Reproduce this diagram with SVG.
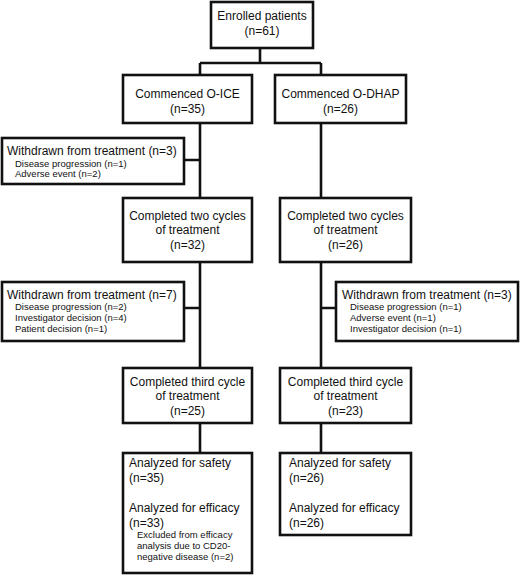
<svg xmlns="http://www.w3.org/2000/svg" width="520" height="575" viewBox="0 0 520 575">
<style>
.box{fill:#fff;stroke:#111;stroke-width:2.6}
.ln{fill:none;stroke:#111;stroke-width:2.6}
text{font-family:"Liberation Sans",Arial,sans-serif;fill:#111}
.t{font-size:12px}
.c{text-anchor:middle}
.s{font-size:9.5px}
</style>
<rect width="520" height="575" fill="#fff"/>
<g id="connectors">
<path class="ln" d="M260,48V63M200,63H321M200,63V75M321,63V75"/>
<path class="ln" d="M200,123V198M184,160H200"/>
<path class="ln" d="M321,123V198"/>
<path class="ln" d="M200,262V368M184,308H200"/>
<path class="ln" d="M321,262V368M321,308H336"/>
<path class="ln" d="M200,423V453M321,423V453"/>
</g>
<g id="enrolled">
<rect class="box" x="211" y="2" width="102" height="46"/>
<text class="t c" x="262" y="20">Enrolled patients</text>
<text class="t c" x="262" y="35">(n=61)</text>
</g>
<g id="oice">
<rect class="box" x="123" y="75" width="129" height="48"/>
<text class="t c" x="187.5" y="97.5">Commenced O-ICE</text>
<text class="t c" x="187.5" y="113">(n=35)</text>
</g>
<g id="odhap">
<rect class="box" x="275" y="75" width="131" height="48"/>
<text class="t c" x="340.5" y="97.5">Commenced O-DHAP</text>
<text class="t c" x="340.5" y="113">(n=26)</text>
</g>
<g id="withdrawn1">
<rect class="box" x="2" y="138" width="182" height="46"/>
<text class="t" x="7" y="155">Withdrawn from treatment (n=3)</text>
<text class="s" x="15" y="166.5">Disease progression (n=1)</text>
<text class="s" x="15" y="177">Adverse event (n=2)</text>
</g>
<g id="two-left">
<rect class="box" x="123" y="198" width="129" height="64"/>
<text class="t c" x="187.5" y="219.5">Completed two cycles</text>
<text class="t c" x="187.5" y="234">of treatment</text>
<text class="t c" x="187.5" y="248.5">(n=32)</text>
</g>
<g id="two-right">
<rect class="box" x="280" y="198" width="131" height="64"/>
<text class="t c" x="345.5" y="219.5">Completed two cycles</text>
<text class="t c" x="345.5" y="234">of treatment</text>
<text class="t c" x="345.5" y="248.5">(n=26)</text>
</g>
<g id="withdrawn2">
<rect class="box" x="2" y="282" width="182" height="59"/>
<text class="t" x="7" y="298.5">Withdrawn from treatment (n=7)</text>
<text class="s" x="15" y="310">Disease progression (n=2)</text>
<text class="s" x="15" y="321">Investigator decision (n=4)</text>
<text class="s" x="15" y="332">Patient decision (n=1)</text>
</g>
<g id="withdrawn3">
<rect class="box" x="336" y="282" width="182" height="59"/>
<text class="t" x="342" y="298.5">Withdrawn from treatment (n=3)</text>
<text class="s" x="350" y="310">Disease progression (n=1)</text>
<text class="s" x="350" y="321">Adverse event (n=1)</text>
<text class="s" x="350" y="332">Investigator decision (n=1)</text>
</g>
<g id="third-left">
<rect class="box" x="123" y="368" width="129" height="55"/>
<text class="t c" x="187.5" y="386">Completed third cycle</text>
<text class="t c" x="187.5" y="399.5">of treatment</text>
<text class="t c" x="187.5" y="414.5">(n=25)</text>
</g>
<g id="third-right">
<rect class="box" x="280" y="368" width="131" height="55"/>
<text class="t c" x="345.5" y="386">Completed third cycle</text>
<text class="t c" x="345.5" y="399.5">of treatment</text>
<text class="t c" x="345.5" y="414.5">(n=23)</text>
</g>
<g id="analyzed-left">
<rect class="box" x="123" y="453" width="129" height="120"/>
<text class="t" x="129" y="467">Analyzed for safety</text>
<text class="t" x="129" y="482">(n=35)</text>
<text class="t" x="129" y="512">Analyzed for efficacy</text>
<text class="t" x="129" y="527">(n=33)</text>
<text class="s" x="137" y="537.5">Excluded from efficacy</text>
<text class="s" x="137" y="548.5">analysis due to CD20-</text>
<text class="s" x="137" y="559.5">negative disease (n=2)</text>
</g>
<g id="analyzed-right">
<rect class="box" x="280" y="453" width="131" height="82"/>
<text class="t" x="289" y="467">Analyzed for safety</text>
<text class="t" x="289" y="482">(n=26)</text>
<text class="t" x="289" y="512">Analyzed for efficacy</text>
<text class="t" x="289" y="527">(n=26)</text>
</g>
</svg>
